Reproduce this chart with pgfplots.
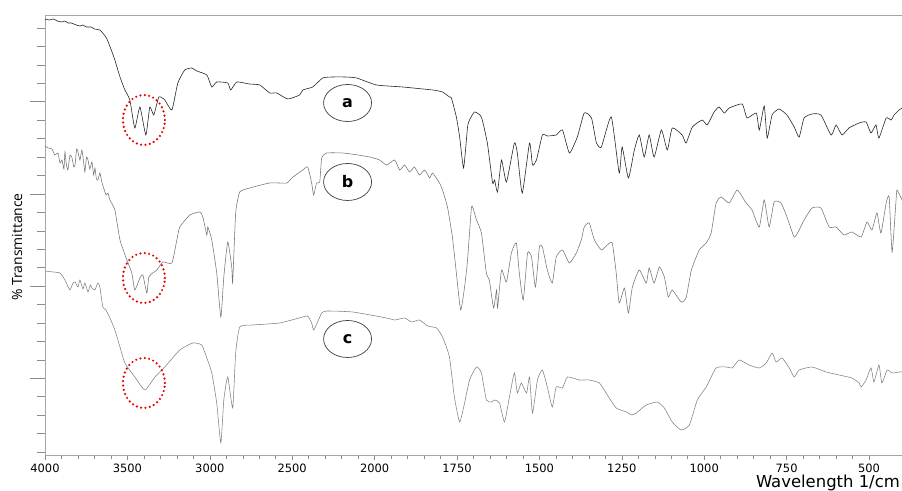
\documentclass[border=0pt]{standalone}
\usepackage{pgfplots}
\pgfplotsset{compat=1.18}
\usepackage{pgfplotstable}
\usepackage{fontspec}
\setmainfont{DejaVu Sans}
\newfontfamily\opensans{Open Sans}
\usetikzlibrary{shapes.geometric}

% spectrum a (wavenumber, transmittance offset units)
\pgfplotstableread{
w y
4000 436
3975 435
3950 436
3925 434
3900 433
3880 434
3860 432
3840 432
3810 430
3788 429
3770 430
3750 428
3720 428
3700 426
3667 425
3640 420
3624 416
3600 406
3576 395
3545 378
3515 365
3485 355
3455 327
3424 348
3388 320
3364 348
3340 340
3309 358
3273 355
3230 345
3194 372
3152 385
3109 387
3079 384
3018 380
2988 368
2958 373
2891 372
2873 365
2836 373
2760 371
2697 370
2636 362
2594 362
2527 356
2455 360
2436 365
2376 368
2315 377
2255 378
2180 378
2109 377
1994 370
1915 368
1824 365
1794 363
1773 358
1767 357
1752 338
1742 318
1730 287
1718 328
1712 335
1697 343
1676 338
1658 312
1642 272
1636 275
1627 263
1615 295
1600 273
1576 312
1567 302
1552 262
1530 312
1521 290
1509 295
1491 320
1476 319
1449 320
1430 325
1409 302
1385 318
1364 342
1342 337
1327 312
1312 308
1282 338
1258 282
1249 308
1230 277
1212 305
1197 320
1182 298
1167 320
1152 298
1130 325
1112 305
1097 327
1067 320
1055 312
1036 328
1006 335
991 330
970 343
955 348
939 342
924 347
885 351
870 337
842 342
833 325
818 349
809 317
794 340
773 346
749 340
727 328
712 318
697 337
673 341
646 340
615 320
600 330
582 320
561 327
530 332
509 333
494 322
479 330
470 317
448 337
433 335
424 340
409 345
400 347
}\spa

% spectrum b
\pgfplotstableread{
w y
4000 309
3980 307
3958 306
3940 300
3921 302
3909 292
3897 295
3885 286
3879 303
3870 290
3861 285
3848 300
3836 297
3825 288
3818 290
3808 306
3800 303
3788 295
3776 305
3765 292
3758 283
3748 298
3739 295
3728 286
3715 293
3705 280
3697 287
3688 276
3679 275
3667 282
3655 273
3642 266
3630 260
3618 262
3606 255
3576 245
3545 215
3503 195
3473 182
3455 165
3424 177
3406 180
3382 162
3370 178
3346 182
3321 185
3285 193
3230 192
3200 215
3182 228
3121 240
3061 243
3042 238
3018 220
3012 228
2988 215
2958 182
2933 138
2915 178
2891 213
2867 188
2861 173
2843 242
2818 263
2758 267
2636 272
2533 272
2503 277
2436 285
2406 288
2382 272
2370 260
2352 272
2333 273
2321 297
2291 302
2194 302
2100 300
2030 298
1985 295
1964 290
1939 295
1924 285
1909 290
1894 283
1879 288
1864 280
1848 285
1833 277
1824 282
1803 272
1794 265
1779 248
1764 218
1752 182
1739 145
1727 168
1718 195
1706 248
1697 242
1691 235
1676 222
1661 182
1652 175
1639 147
1630 165
1627 147
1615 185
1600 173
1585 202
1570 212
1561 182
1549 155
1536 202
1524 198
1512 168
1500 208
1491 208
1476 185
1461 172
1449 198
1430 205
1409 192
1388 202
1373 215
1364 228
1349 232
1333 215
1312 205
1294 210
1279 212
1267 182
1258 152
1242 167
1230 142
1218 168
1197 185
1176 172
1167 187
1152 172
1136 188
1121 178
1109 158
1097 165
1070 153
1055 157
1039 185
1015 205
994 212
979 222
964 252
949 258
924 252
900 265
873 252
855 245
833 228
818 255
803 228
788 253
767 252
749 238
727 218
712 225
697 235
673 247
646 247
621 228
600 228
576 220
552 223
524 218
506 233
491 225
476 242
464 222
448 252
439 258
430 203
418 255
415 265
400 255
}\spb

% spectrum c
\pgfplotstableread{
w y
4000 184
3950 183
3909 182
3879 175
3860 168
3848 165
3830 172
3818 173
3800 168
3788 175
3770 166
3758 172
3739 163
3725 170
3715 167
3697 165
3680 172
3667 168
3649 148
3630 145
3606 137
3576 125
3545 108
3515 92
3455 78
3394 65
3333 78
3273 88
3182 105
3103 112
3049 110
3018 97
2988 82
2958 52
2933 12
2915 55
2891 78
2861 47
2843 102
2818 128
2739 130
2576 132
2436 138
2406 139
2382 132
2370 125
2346 133
2321 142
2291 144
2133 143
1964 137
1939 135
1909 137
1888 133
1864 135
1839 129
1812 127
1794 118
1773 98
1758 58
1742 33
1727 52
1712 75
1691 88
1676 82
1661 55
1645 53
1636 55
1621 52
1606 33
1591 58
1576 82
1567 62
1555 72
1539 62
1530 78
1521 42
1506 75
1491 85
1476 68
1461 48
1449 68
1430 67
1415 78
1379 75
1349 75
1318 72
1294 60
1267 47
1236 43
1221 40
1206 42
1176 50
1142 53
1121 47
1097 33
1070 25
1045 30
1021 55
994 68
964 87
933 88
915 87
894 95
864 90
833 87
812 92
794 102
782 93
764 97
742 87
727 78
712 85
673 88
630 83
591 80
552 77
530 72
524 68
509 75
494 87
485 73
470 90
461 72
445 85
430 82
409 83
400 83
}\spc

\begin{document}
\begin{tikzpicture}
\begin{axis}[
  scale only axis,
  width=857bp, height=440bp,
  xmin=400, xmax=3000, ymin=0, ymax=440,
  x dir=reverse,
  axis line style={black!35, line width=0.6bp},
  xtick={500,750,1000,1250,1500,1750,2000,2250,2500,2750,3000},
  xticklabels={500,750,1000,1250,1500,1750,2000,2500,3000,3500,4000},
  minor x tick num=4,
  ytick={76.7,168.9,261.1,353.3},
  yticklabels={},
  minor ytick={2.9,21.4,39.8,58.3,95.1,113.6,132.0,150.5,187.3,205.8,224.2,242.7,279.6,298.0,316.4,334.9,371.7,390.2,408.6,427.1},
  tick align=outside,
  xtick pos=bottom, ytick pos=left,
  tick style={black!45, line width=0.5bp},
  xtick style={/pgfplots/major tick length=5bp, /pgfplots/minor tick length=4bp},
  ytick style={/pgfplots/major tick length=15bp, /pgfplots/minor tick length=8bp},
  xticklabel style={font=\fontsize{11.5}{13}\selectfont, text=black, yshift=-1bp},
]
\addplot[black!85, line width=0.6bp, smooth, tension=0.3] table[x expr={\thisrow{w}>2000 ? 1000+0.5*\thisrow{w} : \thisrow{w}}, y=y] {\spa};
\addplot[black!55, line width=0.55bp, smooth, tension=0.3] table[x expr={\thisrow{w}>2000 ? 1000+0.5*\thisrow{w} : \thisrow{w}}, y=y] {\spb};
\addplot[black!50, line width=0.55bp, smooth, tension=0.3] table[x expr={\thisrow{w}>2000 ? 1000+0.5*\thisrow{w} : \thisrow{w}}, y=y] {\spc};

\foreach \yy/\lab in {352/a,273/b,116/c}{
  \edef\tmp{\noexpand\node[draw=black!75, line width=0.7bp, ellipse, minimum width=48bp, minimum height=37bp, inner sep=0pt, fill=white, font=\noexpand\bfseries\noexpand\fontsize{16}{16}\noexpand\selectfont] at (axis cs:2082,\yy) {\lab};}
  \tmp
}
\foreach \yy in {335,177,72}{
  \edef\tmp{\noexpand\node[draw=red!90!black, ellipse, line width=2.4bp, line cap=round, dash pattern=on 0bp off 4.4bp, minimum width=42bp, minimum height=50bp, inner sep=0pt] at (axis cs:2700,\yy) {};}
  \tmp
}
\coordinate (sw) at (axis cs:3000,0);
\coordinate (ne) at (axis cs:400,440);
\coordinate (ylab) at (axis cs:3000,208);
\coordinate (xlab) at (axis cs:400,0);
\end{axis}
\node[rotate=90, font=\opensans\fontsize{14}{16}\selectfont] at ([xshift=-28bp]ylab) {\% Transmittance};
\node[anchor=base east, inner sep=0pt, font=\fontsize{16.5}{18}\selectfont] at ([shift={(-2bp,-33bp)}]xlab) {Wavelength 1/cm};
\pgfresetboundingbox
\path[use as bounding box] ([shift={(-45bp,-36bp)}]sw) rectangle ([shift={(0bp,15bp)}]ne);
\end{tikzpicture}
\end{document}
